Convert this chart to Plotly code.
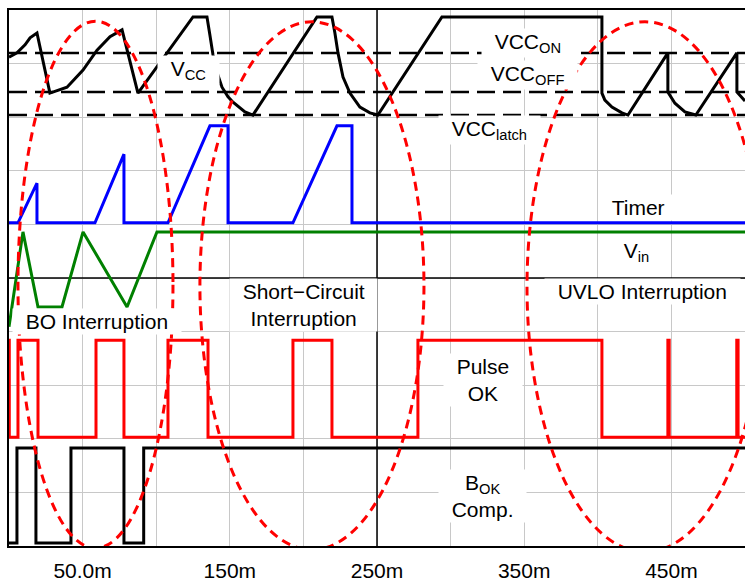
import plotly.graph_objects as go

# =========================
# Data (time in ms, levels in screen divisions 0..10)
# =========================
grid_x = [0, 50, 100, 150, 200, 250, 300, 350, 400, 450, 500]
grid_x_text = ["", "50.0m", "", "150m", "", "250m", "", "350m", "", "450m", ""]
grid_y = [0, 1, 2, 3, 4, 5, 6, 7, 8, 9, 10]

vcc_t = [0, 5.4, 10.9, 14.3, 19.0, 27.8, 39.4, 50.3, 59.8, 68.6, 76.8, 87.6, 125.0, 134.5,
         136.5, 138.6, 141.3, 144.7, 148.8, 152.2, 160.3, 165.7, 209.2, 219.4, 221.4, 223.5,
         226.9, 231.6, 238.4, 245.2, 250.6, 294.1, 402.8, 402.8, 404.8, 409.6, 416.4, 420.5,
         447.6, 447.6, 452.4, 459.2, 466.6, 494.5, 494.5, 500]
vcc_v = [9.12, 9.20, 9.35, 9.48, 9.57, 8.45, 8.56, 8.88, 9.25, 9.50, 9.63, 8.45, 9.87, 9.87,
         9.53, 9.16, 8.84, 8.56, 8.38, 8.28, 8.10, 8.04, 9.87, 9.87, 9.57, 9.20,
         8.75, 8.45, 8.19, 8.08, 8.04, 9.87, 9.87, 8.45, 8.32, 8.19, 8.08, 8.04,
         9.20, 8.47, 8.26, 8.10, 8.04, 9.20, 8.47, 8.30]
vcc_levels = [9.20, 8.47, 8.04]  # VCC_ON, VCC_OFF, VCC_latch

timer_t = [0, 6.1, 19.0, 19.0, 58.4, 78.1, 78.1, 108.0, 136.5, 148.8, 148.8, 192.9, 222.8,
           233.0, 233.0, 500]
timer_v = [6.03, 6.03, 6.77, 6.03, 6.03, 7.31, 6.03, 6.03, 7.84, 7.84, 6.03, 6.03, 7.84,
           7.84, 6.03, 6.03]

vin_t = [0, 9.5, 19.7, 36.0, 50.3, 80.2, 100.5, 500]
vin_v = [4.09, 5.86, 4.46, 4.46, 5.86, 4.46, 5.86, 5.86]

pulse_low, pulse_high = 2.03, 3.84
pulse_edges = [0.2, 6.1, 19.7, 59.1, 78.1, 108.0, 135.2, 192.9, 219.4, 277.8, 402.8,
               447.6, 448.5, 494.4, 495.3]

bok_low, bok_high = 0.056, 1.83
bok_edges = [5.4, 18.3, 42.1, 78.1, 91.5]

ell_x0 = [6.1, 129.7, 351.9]
ell_x1 = [111.4, 281.9, 512.2]
ell_y0 = [-0.04, -0.07, -0.11]
ell_y1 = [9.79, 9.78, 9.78]

lbl_text = ["V<sub>CC</sub>", "VCC<sub>ON</sub>", "VCC<sub>OFF</sub>", "VCC<sub>latch</sub>",
            "Timer", "V<sub>in</sub>", "BO Interruption", "Short\u2212Circuit<br>Interruption",
            "UVLO Interruption", "Pulse<br>OK", "B<sub>OK</sub><br>Comp."]
lbl_x = [121.6, 352.5, 351.9, 326.7, 427.3, 426.0, 59.8, 200.4, 430.7, 322.0, 322.0]
lbl_y = [8.88, 9.38, 8.79, 7.76, 6.32, 5.49, 4.18, 4.50, 4.74, 3.10, 0.93]


def steps(edges, lo, hi, start_high, t_end=500):
    xs, ys = [0], [hi if start_high else lo]
    state = start_high
    for e in edges:
        xs += [e, e]
        ys += [hi if state else lo, lo if state else hi]
        state = not state
    xs.append(t_end)
    ys.append(hi if state else lo)
    return xs, ys


FONT = "Liberation Sans, Arial, sans-serif"
fig = go.Figure()

# dashed VCC thresholds
for lv in vcc_levels:
    fig.add_trace(go.Scatter(x=[0, 500], y=[lv, lv], mode="lines",
                             line=dict(color="black", width=2.5, dash="18px,8px")))

px, py = steps(pulse_edges, pulse_low, pulse_high, True)
fig.add_trace(go.Scatter(x=px, y=py, mode="lines", line=dict(color="#ff0000", width=3)))
bx, by = steps(bok_edges, bok_low, bok_high, False)
fig.add_trace(go.Scatter(x=bx, y=by, mode="lines", line=dict(color="black", width=3)))
fig.add_trace(go.Scatter(x=vin_t, y=vin_v, mode="lines", line=dict(color="#008000", width=3)))
fig.add_trace(go.Scatter(x=timer_t, y=timer_v, mode="lines", line=dict(color="#0000ff", width=3)))
fig.add_trace(go.Scatter(x=vcc_t, y=vcc_v, mode="lines", line=dict(color="black", width=3)))

# center lines of the screen
fig.add_shape(type="line", x0=250, x1=250, y0=0, y1=10, xref="x", yref="y",
              line=dict(color="black", width=1.5), layer="between")
fig.add_shape(type="line", x0=0, x1=500, y0=5, y1=5, xref="x", yref="y",
              line=dict(color="black", width=1.5), layer="between")

# dotted ellipses
for x0, x1, y0, y1 in zip(ell_x0, ell_x1, ell_y0, ell_y1):
    fig.add_shape(type="circle", x0=x0, x1=x1, y0=y0, y1=y1, xref="x", yref="y",
                  line=dict(color="#ff0000", width=3, dash="9px,6px"), layer="above")

for t, x, y in zip(lbl_text, lbl_x, lbl_y):
    t = "<br>".join("\u00a0\u00a0" + s + "\u00a0\u00a0" for s in t.split("<br>"))
    fig.add_annotation(x=x, y=y, text=t, showarrow=False, bgcolor="white", borderpad=1,
                       font=dict(family=FONT, size=21, color="black"))

fig.update_layout(
    width=745, height=582,
    margin=dict(l=9, r=0, t=10, b=36, autoexpand=False),
    plot_bgcolor="white", paper_bgcolor="white",
    showlegend=False,
    font=dict(family=FONT, size=21, color="black"),
    xaxis=dict(range=[0, 500], tickmode="array", tickvals=grid_x, ticktext=grid_x_text,
               showgrid=True, gridcolor="#c8c8c8", gridwidth=1, zeroline=False,
               showline=True, linecolor="black", linewidth=1.5, mirror=True, ticks="",
               ticklabelstandoff=5, automargin=False),
    yaxis=dict(range=[0, 10], tickmode="array", tickvals=grid_y, showticklabels=False,
               automargin=False, showgrid=True, gridcolor="#c8c8c8", gridwidth=1,
               zeroline=False, showline=True, linecolor="black", linewidth=1.5, ticks=""),
)

fig.write_html("out.html", config={"displayModeBar": False},
               post_script="document.body.style.margin='0';")
